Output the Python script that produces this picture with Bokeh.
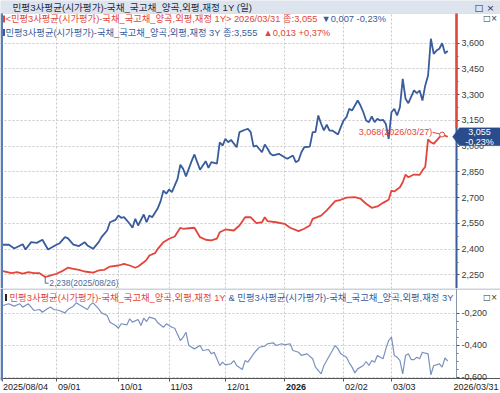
import numpy as np
from bokeh.plotting import figure
from bokeh.models import (Range1d, FixedTicker, CustomJSTickFormatter, Label,
                          BoxAnnotation, PolyAnnotation)
from bokeh.layouts import column
from bokeh.embed import file_html
from bokeh.resources import INLINE

# ---------------- data (trading-day index since 2025/08/04, yields in %) -------------
tick_days = [0, 19, 41, 59, 79, 100, 121, 138, 158]
tick_labels = ["2025/08/04", "09/01", "10/01", "11/03", "12/01", "2026", "02/02", "03/03", "2026/03/31"]

day_3y = [0, 2, 4, 7, 8, 10, 12, 14, 16, 19, 20, 22, 23, 25, 27, 29, 30, 32, 34, 35,
          37, 38, 40, 41, 42, 43, 45, 46, 47, 48, 50, 51, 52, 53, 55, 56, 57, 58, 59, 60,
          62, 63, 64, 65, 67, 68, 69, 70, 72, 73, 74, 76, 77, 78, 79, 80, 81, 83, 84, 86,
          87, 88, 89, 90, 92, 93, 94, 95, 96, 98, 99, 100, 101, 103, 104, 105, 106, 107, 109, 110,
          111, 112, 113, 114, 115, 116, 117, 119, 120, 121, 122, 123, 124, 126, 127, 128, 129, 130, 131, 132,
          133, 134, 135, 136, 137, 138, 139, 140, 141, 142, 143, 144, 146, 147, 148, 149, 150, 151, 152, 153,
          154, 155, 156, 157, 158]
yield_3y = [2.426, 2.427, 2.404, 2.429, 2.398, 2.441, 2.437, 2.455, 2.398, 2.426, 2.433, 2.470, 2.464, 2.427, 2.418, 2.441, 2.422, 2.402, 2.441, 2.470,
            2.509, 2.557, 2.571, 2.596, 2.583, 2.587, 2.548, 2.525, 2.577, 2.538, 2.602, 2.557, 2.596, 2.586, 2.639, 2.680, 2.742, 2.723, 2.748, 2.732,
            2.810, 2.892, 2.868, 2.824, 2.913, 2.952, 2.907, 2.863, 2.913, 2.874, 2.907, 2.898, 3.023, 3.004, 3.043, 3.023, 3.037, 2.994, 3.082, 3.096,
            3.101, 3.082, 2.998, 3.004, 2.965, 3.010, 2.985, 2.956, 2.946, 2.956, 2.946, 2.936, 2.927, 2.946, 2.907, 2.917, 2.965, 2.994, 2.998, 3.082,
            3.082, 3.179, 3.131, 3.092, 3.125, 3.091, 3.091, 3.068, 3.111, 3.150, 3.169, 3.218, 3.208, 3.266, 3.237, 3.198, 3.150, 3.140, 3.173, 3.140,
            3.160, 3.150, 3.154, 3.130, 3.043, 3.198, 3.218, 3.179, 3.227, 3.393, 3.276, 3.251, 3.325, 3.309, 3.324, 3.266, 3.354, 3.412, 3.626, 3.538,
            3.557, 3.568, 3.600, 3.542, 3.555]

day_1y = [0, 3, 5, 7, 9, 11, 13, 15, 17, 19, 21, 23, 25, 27, 29, 32, 34, 36, 38, 41,
          43, 45, 47, 48, 50, 51, 52, 54, 55, 57, 59, 61, 63, 64, 66, 68, 70, 72, 74, 76,
          77, 79, 82, 84, 86, 88, 90, 92, 93, 94, 97, 100, 102, 105, 107, 109, 110, 113, 115, 118,
          120, 122, 125, 127, 129, 131, 133, 135, 137, 138, 139, 141, 142, 143, 144, 146, 148, 149, 150, 151,
          152, 153, 154, 155, 156, 157, 158]
yield_1y = [2.272, 2.260, 2.266, 2.257, 2.266, 2.260, 2.260, 2.238, 2.247, 2.257, 2.272, 2.292, 2.286, 2.280, 2.270, 2.264, 2.276, 2.280, 2.299, 2.305,
            2.315, 2.305, 2.292, 2.299, 2.324, 2.338, 2.363, 2.377, 2.402, 2.441, 2.461, 2.474, 2.525, 2.519, 2.522, 2.525, 2.470, 2.455, 2.451, 2.461,
            2.499, 2.515, 2.509, 2.538, 2.586, 2.586, 2.552, 2.557, 2.586, 2.563, 2.557, 2.548, 2.525, 2.505, 2.519, 2.538, 2.577, 2.596, 2.626, 2.680,
            2.688, 2.700, 2.703, 2.694, 2.665, 2.641, 2.649, 2.670, 2.688, 2.742, 2.736, 2.761, 2.790, 2.835, 2.819, 2.835, 2.833, 2.859, 2.880, 3.040,
            3.023, 3.014, 3.033, 3.052, 3.068, 3.062, 3.055]

day_sp = [0, 2, 4, 6, 7, 9, 11, 13, 14, 16, 17, 18, 20, 22, 23, 25, 26, 28, 30, 31,
          32, 34, 35, 37, 38, 40, 41, 42, 44, 45, 46, 48, 49, 50, 51, 52, 54, 55, 57, 58,
          60, 61, 63, 64, 65, 66, 68, 70, 71, 73, 74, 75, 77, 78, 79, 81, 82, 83, 85, 86,
          87, 89, 90, 91, 93, 94, 96, 97, 99, 100, 102, 103, 105, 106, 108, 110, 111, 113, 114, 115,
          116, 117, 118, 119, 120, 122, 123, 124, 125, 126, 128, 129, 130, 131, 132, 133, 135, 136, 137, 138,
          139, 140, 141, 142, 143, 144, 145, 146, 147, 148, 149, 150, 151, 152, 153, 154, 155, 156, 157, 158]
spread = [-0.152, -0.141, -0.156, -0.141, -0.162, -0.141, -0.183, -0.177, -0.194, -0.169, -0.162, -0.177, -0.183, -0.198, -0.177, -0.156, -0.135, -0.156, -0.177, -0.148,
          -0.135, -0.173, -0.198, -0.214, -0.256, -0.277, -0.294, -0.266, -0.273, -0.235, -0.256, -0.239, -0.277, -0.231, -0.252, -0.225, -0.235, -0.260, -0.288, -0.266,
          -0.288, -0.294, -0.371, -0.350, -0.319, -0.402, -0.423, -0.402, -0.433, -0.427, -0.454, -0.444, -0.527, -0.506, -0.523, -0.516, -0.496, -0.527, -0.552, -0.496,
          -0.506, -0.454, -0.433, -0.413, -0.406, -0.391, -0.385, -0.402, -0.391, -0.398, -0.391, -0.433, -0.444, -0.464, -0.454, -0.485, -0.537, -0.579, -0.527, -0.496,
          -0.464, -0.433, -0.402, -0.423, -0.454, -0.475, -0.510, -0.537, -0.573, -0.548, -0.527, -0.502, -0.527, -0.496, -0.506, -0.464, -0.485, -0.423, -0.371, -0.350,
          -0.464, -0.475, -0.496, -0.579, -0.464, -0.454, -0.490, -0.490, -0.475, -0.485, -0.444, -0.450, -0.454, -0.585, -0.527, -0.523, -0.516, -0.537, -0.480, -0.500]

y_ticks_up = [2.25, 2.40, 2.55, 2.70, 2.85, 3.00, 3.15, 3.30, 3.45, 3.60]
y_ticks_lo = [-0.2, -0.4, -0.6]

name = "민평3사평균(시가평가)-국채_국고채_양곡,외평,재정"
min_date = "2025/08/26"
max_date = "2026/03/27"
last_date = "2026/03/31"

# ---------------- style -------------
KFONT = "Liberation Sans, Noto Sans CJK KR"
NFONT = "Liberation Sans"
BLUE = "#395c9c"
RED = "#e2463a"
SPREAD = "#7b91bd"
GRID = "#c8c8c8"
W, H1, H2 = 500, 288, 105
AX_X = 161.1          # x (trading-day units) where the value axes stand
AXR = 456             # canvas x of the value axes
x_range = Range1d(-0.888, 176.73)


def fmt(v, nd=3):
    return f"{v:.{nd}f}".replace(".", ",")


def sgn_pct(v):
    return ("+" if v >= 0 else "-") + fmt(abs(v), 2) + "%"


fmt_js = CustomJSTickFormatter(code="return tick.toFixed(3).replace('.', ',');")


def canvas_label(p, x, y, text, color, size="9.3px", align="left", style="normal", font=KFONT):
    p.add_layout(Label(x=x, y=y, x_units="canvas", y_units="canvas", text=text,
                       text_color=color, text_font=font, text_font_size=size,
                       text_align=align, text_baseline="middle", text_font_style=style))


def canvas_box(p, l, r, t, b, color, line=None, level="annotation"):
    p.add_layout(BoxAnnotation(left=l, right=r, top=t, bottom=b,
                               left_units="canvas", right_units="canvas",
                               top_units="canvas", bottom_units="canvas",
                               fill_color=color, fill_alpha=1, line_color=line, level=level))


def style_grid(p):
    for g in (p.xgrid, p.ygrid):
        g.grid_line_color = GRID
        g.grid_line_dash = "2 2"
        g.grid_line_width = 1
    p.xgrid.ticker = FixedTicker(ticks=tick_days[1:-1])


def style_yaxis(ax, ticks, minor, bounds):
    ax.fixed_location = AX_X
    ax.bounds = bounds
    ax.ticker = FixedTicker(ticks=ticks, minor_ticks=minor)
    ax.formatter = fmt_js
    ax.major_label_text_font = NFONT
    ax.major_label_text_font_size = "9px"
    ax.major_label_text_color = "#3a3a3a"
    ax.major_tick_in = 0
    ax.major_tick_out = 3
    ax.minor_tick_in = 0
    ax.minor_tick_out = 2
    ax.major_tick_line_color = "#555555"
    ax.minor_tick_line_color = "#777777"
    ax.major_label_standoff = 2


def new_fig(h, yr):
    return figure(width=W, height=h, x_range=x_range, y_range=yr,
                  output_backend="svg", toolbar_location=None, y_axis_location="right",
                  min_border=0, min_border_left=0, min_border_right=0, min_border_top=0,
                  min_border_bottom=0, outline_line_color=None, border_fill_color="white")


# ---------------- upper panel -------------
p1 = new_fig(H1, Range1d(2.171, 3.849))
p1.xaxis.visible = False
style_grid(p1)
style_yaxis(p1.yaxis[0], y_ticks_up, [t + 0.075 for t in y_ticks_up[:-1]], (2.171, 3.773))
p1.yaxis.axis_line_color = BLUE
p1.yaxis.axis_line_width = 2
canvas_box(p1, AXR + 1, W, 0, H1, "white", level="underlay")

p1.line(day_1y, yield_1y, line_color=RED, line_width=1.8)
p1.line(day_3y, yield_3y, line_color=BLUE, line_width=1.8)

last1, prev1 = yield_1y[-1], yield_1y[-2]
last3, prev3 = yield_3y[-1], yield_3y[-2]
chg1, chg3 = last1 - prev1, last3 - prev3

# min annotation
i_min = int(np.argmin(yield_1y))
xm, ym = day_1y[i_min], yield_1y[i_min]
p1.line([xm, xm, xm + 1.2], [ym, ym - 0.036, ym - 0.036], line_color="#4b6aa0", line_width=1)
p1.add_layout(Label(x=xm + 1.4, y=ym - 0.036, text=f"{fmt(ym)}({min_date})", text_color="#4b6aa0",
                    text_font=NFONT, text_font_size="8.5px", text_baseline="middle"))
# max annotation
i_max = int(np.argmax(yield_1y))
xM, yM = day_1y[i_max], yield_1y[i_max]
p1.line([xM - 3.4, xM], [yM + 0.013, yM], line_color=RED, line_width=1)
p1.scatter([xM], [yM], size=5, marker="circle", fill_color="white", line_color=RED)
p1.add_layout(Label(x=xM - 3.5, y=yM + 0.013, text=f"{fmt(yM)}({max_date})", text_color=RED,
                    text_font=NFONT, text_font_size="9px", text_baseline="middle", text_align="right"))

# title bar & chrome
canvas_box(p1, 0, W, 0, 13, "#dde4ee", "#aebcd0")
canvas_label(p1, 12, 6.5, f"{name} 1Y (일)", "#1b2b48", "9.6px")
canvas_label(p1, 494, 6.5, "□ ×", "#1b2b48", "9.5px", "right", font="DejaVu Sans")
canvas_box(p1, 0, 2.5, 13, H1, "#5b7db5")
# legends
canvas_box(p1, 2.5, 4.5, 15, 22, RED)
canvas_label(p1, 5, 18.5, f"<{name} 1Y> {last_date} 종:{fmt(last1)}", RED)
canvas_label(p1, 321, 18.5, ("▼" if chg1 < 0 else "▲") + f"{fmt(abs(chg1))}  {sgn_pct(chg1 / prev1 * 100)}", BLUE)
canvas_box(p1, 2.5, 4.5, 28.5, 35.5, BLUE)
canvas_label(p1, 5, 32, f"{name} 3Y 종:{fmt(last3)}", BLUE)
canvas_label(p1, 263, 32, ("▼" if chg3 < 0 else "▲") + f"{fmt(abs(chg3))} {sgn_pct(chg3 / prev3 * 100)}", RED)
canvas_label(p1, 497, 18, "□×", "#333333", "8px", "right", font="DejaVu Sans")

# right-axis colouring and current value tag
h = 0.0524
p1.add_layout(BoxAnnotation(left=AXR - 1, right=AXR + 1, top=13, bottom=last1 + h,
                            left_units="canvas", right_units="canvas", top_units="canvas",
                            bottom_units="data", fill_color=RED, fill_alpha=1, line_color=None))
p1.add_layout(PolyAnnotation(xs=[AXR - 4, AXR + 3, W, W, AXR + 3],
                             ys=[last1, last1 + h, last1 + h, last1 - h, last1 - h],
                             xs_units="canvas", ys_units="data", fill_color="#2b4c8c", fill_alpha=1,
                             line_color="#2b4c8c"))
p1.add_layout(Label(x=479, y=last1, x_units="canvas", y_units="data", y_offset=4.5, text=fmt(last1),
                    text_color="white", text_font=NFONT, text_font_size="9px", text_align="center",
                    text_baseline="middle"))
p1.add_layout(Label(x=479, y=last1, x_units="canvas", y_units="data", y_offset=-5,
                    text=sgn_pct(chg1 / prev1 * 100), text_color="white", text_font=NFONT,
                    text_font_size="9px", text_align="center", text_baseline="middle"))

# ---------------- lower panel -------------
p2 = new_fig(H2, Range1d(-0.7019, -0.0456))
style_grid(p2)
style_yaxis(p2.yaxis[0], y_ticks_lo, [-0.25, -0.3, -0.35, -0.45, -0.5, -0.55], (-0.608, -0.0456))
p2.yaxis.axis_line_color = "#8a98ae"
canvas_box(p2, AXR + 1, W, 0, H2, "white", level="underlay")
canvas_box(p2, 0, W, 90, H2, "white", level="underlay")
p2.line(day_sp, spread, line_color=SPREAD, line_width=1.2)

xa = p2.xaxis[0]
xa.fixed_location = -0.608
xa.ticker = FixedTicker(ticks=tick_days[:-1])
xa.major_label_overrides = {d: "" for d in tick_days}
xa.major_label_text_font_size = "1px"
xa.major_label_standoff = 0
xa.major_tick_in = 0
xa.major_tick_out = 3
xa.minor_tick_line_color = None
xa.axis_line_color = "#555555"
xa.major_tick_line_color = "#555555"
# date labels, left-aligned just right of their tick (last one flush right)
for d, t in zip(tick_days, tick_labels):
    last = (t == tick_labels[-1])
    p2.add_layout(Label(x=(498 if last else d), x_units=("canvas" if last else "data"),
                        x_offset=(0 if last or d == 0 else 1.5), y=98.5, y_units="canvas", text=t,
                        text_color="#1a1a1a", text_font=NFONT, text_font_size="9px",
                        text_font_style=("bold" if t == "2026" else "normal"),
                        text_align=("right" if last else "left"), text_baseline="middle"))

canvas_box(p2, 0, W, 0, 1, "#9aa8bc")
canvas_box(p2, 0, 2.5, 0, 92, "#5b7db5")
canvas_box(p2, 4.5, 6.5, 5.5, 12.5, "#222222")
canvas_label(p2, 9, 9, f"{name} 1Y", RED, "9.35px")
canvas_label(p2, 228, 9, f"& {name} 3Y", BLUE, "9.35px")
canvas_label(p2, 497, 9, "□×", "#333333", "8px", "right", font="DejaVu Sans")

layout = column(p1, p2, spacing=0)
open("out.html", "w").write(file_html(layout, INLINE))
